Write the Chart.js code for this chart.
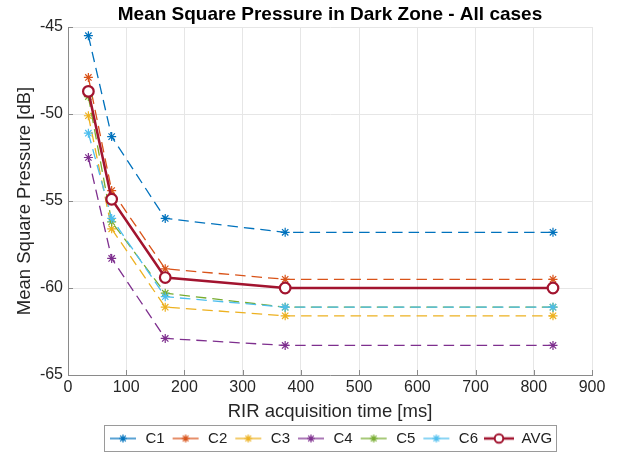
<!DOCTYPE html>
<html><head><meta charset="utf-8">
<script src="https://cdn.jsdelivr.net/npm/chart.js@4.4.1/dist/chart.umd.min.js"></script>
<style>html,body{margin:0;padding:0;background:#fff;}#wrap{width:618px;height:457px;}</style>
</head><body><div id="wrap"><canvas id="c" width="618" height="457"></canvas></div>
<script>
// ---- data ----
const times = [35, 75, 167, 373, 833];
const c1  = [-45.5, -51.3, -56.0, -56.8, -56.8];
const c2  = [-47.9, -54.4, -58.9, -59.5, -59.5];
const c3  = [-50.1, -56.6, -61.1, -61.6, -61.6];
const c4  = [-52.5, -58.3, -62.9, -63.3, -63.3];
const c5  = [-49.0, -56.2, -60.3, -61.1, -61.1];
const c6  = [-51.1, -56.0, -60.5, -61.1, -61.1];
const avg = [-48.7, -54.9, -59.4, -60.0, -60.0];
const seriesNames = ['C1', 'C2', 'C3', 'C4', 'C5', 'C6', 'AVG'];
const xTickValues = [0, 100, 200, 300, 400, 500, 600, 700, 800, 900];
const yTickValues = [-65, -60, -55, -50, -45];

// ---- styles ----
const FONT = "'Liberation Sans', Arial, Helvetica, sans-serif";
const colors = ['#0072BD', '#D95319', '#EDB120', '#7E2F8E', '#77AC30', '#4DBEEE', '#A2142F'];
const DASH = [10.5, 6];
const allSeries = [c1, c2, c3, c4, c5, c6, avg];

function drawStar(ctx, x, y, r) {
  ctx.beginPath();
  ctx.moveTo(x - r, y); ctx.lineTo(x + r, y);
  ctx.moveTo(x, y - r); ctx.lineTo(x, y + r);
  const d = r * 0.7071;
  ctx.moveTo(x - d, y - d); ctx.lineTo(x + d, y + d);
  ctx.moveTo(x - d, y + d); ctx.lineTo(x + d, y - d);
  ctx.stroke();
}
function makeIcon(i) {
  const cv = document.createElement('canvas');
  cv.width = 30; cv.height = 14;
  const ctx = cv.getContext('2d');
  ctx.strokeStyle = colors[i];
  if (i < 6) {
    ctx.lineWidth = 1.3;
    ctx.beginPath(); ctx.moveTo(2, 7); ctx.lineTo(28, 7); ctx.stroke();
    ctx.lineWidth = 1.2;
    drawStar(ctx, 15, 7, 4);
  } else {
    ctx.lineWidth = 2.5;
    ctx.beginPath(); ctx.moveTo(0, 7); ctx.lineTo(30, 7); ctx.stroke();
    ctx.fillStyle = '#fff';
    ctx.lineWidth = 2;
    ctx.beginPath(); ctx.arc(15, 7, 4.3, 0, Math.PI * 2); ctx.fill(); ctx.stroke();
  }
  return cv;
}
const icons = seriesNames.map((_, i) => makeIcon(i));

const datasets = seriesNames.map((name, i) => {
  const isAvg = i === 6;
  return {
    label: name,
    data: times.map((t, k) => ({ x: t, y: allSeries[i][k] })),
    borderColor: colors[i],
    backgroundColor: isAvg ? '#ffffff' : colors[i],
    borderWidth: isAvg ? 2.5 : 1.3,
    borderDash: isAvg ? [] : DASH,
    pointStyle: isAvg ? 'circle' : 'star',
    pointRadius: isAvg ? 5.3 : 4.5,
    pointBorderWidth: isAvg ? 2.2 : 1.2,
    pointBorderColor: colors[i],
    pointBackgroundColor: isAvg ? '#ffffff' : colors[i],
    tension: 0,
    order: 6 - i,
  };
});

// inward tick marks (MATLAB style) + legend frame
const extras = {
  id: 'extras',
  beforeDatasetsDraw(chart) {
    const ctx = chart.ctx, a = chart.chartArea;
    const xs = chart.scales.x, ys = chart.scales.y;
    ctx.save();
    ctx.strokeStyle = '#8a8a8a';
    ctx.lineWidth = 1;
    ctx.beginPath();
    xTickValues.forEach(v => {
      const px = Math.round(xs.getPixelForValue(v)) + 0.5;
      ctx.moveTo(px, a.bottom); ctx.lineTo(px, a.bottom - 5);
    });
    yTickValues.forEach(v => {
      const py = Math.round(ys.getPixelForValue(v)) + 0.5;
      ctx.moveTo(a.left, py); ctx.lineTo(a.left + 5, py);
    });
    ctx.stroke();
    ctx.restore();
  },
  afterDraw(chart) {
    const lg = chart.legend;
    if (!lg || !lg.legendHitBoxes || !lg.legendHitBoxes.length) return;
    const hb = lg.legendHitBoxes;
    let l = Infinity, r = -Infinity, t = Infinity, b = -Infinity;
    hb.forEach(h => { l = Math.min(l, h.left); r = Math.max(r, h.left + h.width); t = Math.min(t, h.top); b = Math.max(b, h.top + h.height); });
    const ctx = chart.ctx;
    ctx.save();
    ctx.strokeStyle = '#9a9a9a';
    ctx.lineWidth = 1;
    ctx.strokeRect(Math.round(l - 4) + 0.5, Math.round(t - 6) + 0.5, Math.round(r - l + 8), Math.round(b - t + 11));
    ctx.restore();
  }
};

new Chart(document.getElementById('c'), {
  type: 'line',
  data: { datasets },
  plugins: [extras],
  options: {
    responsive: false,
    animation: false,
    devicePixelRatio: 1,
    layout: { padding: { left: 0, right: 26, top: 0, bottom: 1 } },
    plugins: {
      tooltip: { enabled: false },
      title: {
        display: true,
        fullSize: false,
        text: 'Mean Square Pressure in Dark Zone - All cases',
        color: '#000',
        font: { family: FONT, size: 19, weight: 'bold' },
        padding: { top: 3.5, bottom: 0.7 }
      },
      legend: {
        position: 'bottom',
        fullSize: false,
        labels: {
          usePointStyle: true,
          pointStyleWidth: 30,
          padding: 6,
          color: '#222',
          font: { family: FONT, size: 15 },
          sort: (a, b) => a.datasetIndex - b.datasetIndex,
          generateLabels(chart) {
            const items = Chart.defaults.plugins.legend.labels.generateLabels(chart);
            items.forEach(it => { it.pointStyle = icons[it.datasetIndex]; });
            return items;
          }
        }
      }
    },
    scales: {
      x: {
        type: 'linear',
        min: 0, max: 900,
        afterBuildTicks: s => { s.ticks = xTickValues.map(v => ({ value: v })); },
        afterFit: s => { s.height = 50; },
        ticks: { color: '#262626', font: { family: FONT, size: 16 }, padding: 3, maxRotation: 0, autoSkip: false },
        grid: { color: '#e6e6e6', drawTicks: false },
        border: { display: true, color: '#8a8a8a', width: 1 },
        title: { display: true, text: 'RIR acquisition time [ms]', color: '#262626', font: { family: FONT, size: 18.5 }, padding: { top: 0, bottom: 2 } }
      },
      y: {
        type: 'linear',
        min: -65, max: -45,
        afterBuildTicks: s => { s.ticks = yTickValues.map(v => ({ value: v })); },
        afterFit: s => { s.width = 68; },
        ticks: { color: '#262626', font: { family: FONT, size: 16 }, padding: 5 },
        grid: { color: '#e6e6e6', drawTicks: false },
        border: { display: true, color: '#8a8a8a', width: 1 },
        title: { display: true, text: 'Mean Square Pressure [dB]', color: '#262626', font: { family: FONT, size: 18.5 }, padding: { top: 14, bottom: 0 } }
      }
    }
  }
});
</script></body></html>
